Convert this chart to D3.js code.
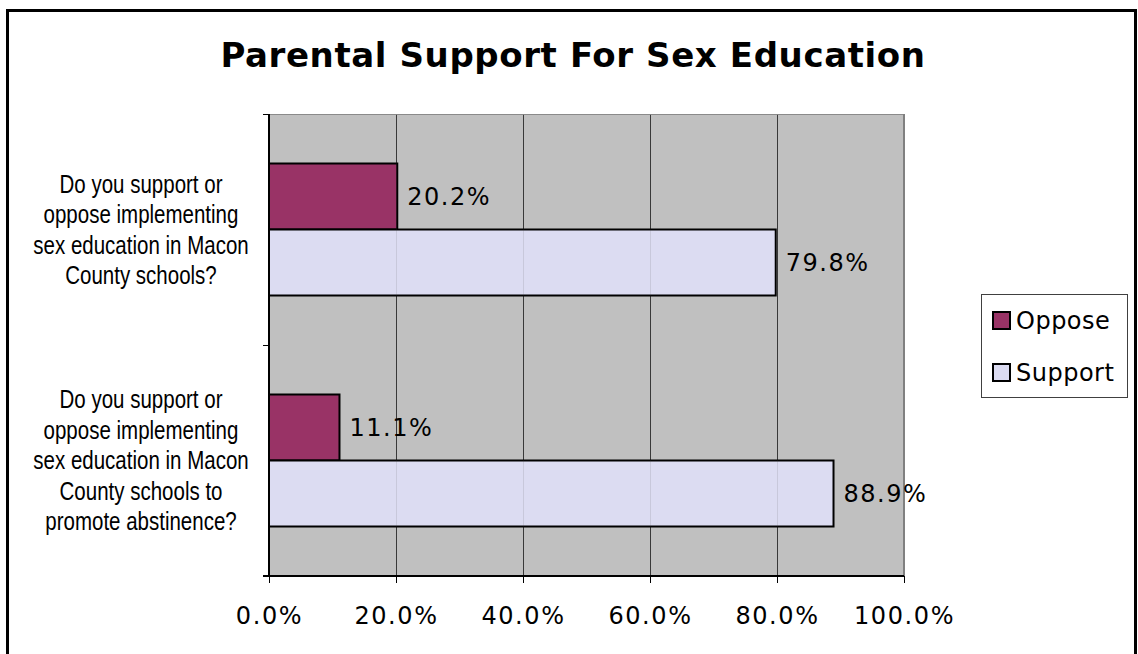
<!DOCTYPE html>
<html>
<head>
<meta charset="utf-8">
<script src="https://cdn.jsdelivr.net/npm/d3@7"></script>
<style>
  html, body { margin: 0; padding: 0; background: #fff; }
  svg { display: block; }
</style>
</head>
<body>
<svg id="chart" width="1138" height="654"></svg>
<script>
// ---- data ----
const title = "Parental Support For Sex Education";
const categories = [
  "Do you support or|oppose implementing|sex education in Macon|County schools?",
  "Do you support or|oppose implementing|sex education in Macon|County schools to|promote abstinence?"
];
const seriesNames = ["Oppose", "Support"];
const opposeValues = [20.2, 11.1];
const supportValues = [79.8, 88.9];
const xTickValues = [0, 20, 40, 60, 80, 100];

// ---- styles ----
const colors = { Oppose: "#993366", Support: "#DCDCF2" };
const plotBg = "#C0C0C0";
const labelFont = "'DejaVu Sans', Verdana, sans-serif";
const catFont = "'Liberation Sans', Arial, sans-serif";

const svg = d3.select("#chart");

// outer frame
svg.append("rect")
  .attr("x", 7.5).attr("y", 10.5)
  .attr("width", 1128).attr("height", 660)
  .attr("fill", "#fff").attr("stroke", "#000").attr("stroke-width", 3);

// title
svg.append("text")
  .attr("x", 573).attr("y", 67)
  .attr("text-anchor", "middle")
  .attr("font-family", labelFont)
  .attr("font-weight", "bold")
  .attr("font-size", 34)
  .attr("letter-spacing", 0.6)
  .attr("fill", "#000")
  .text(title);

const plot = { left: 269, right: 904, top: 114, bottom: 576 };

const x = d3.scaleLinear().domain([0, 100]).range([plot.left, plot.right]);
const y = d3.scaleBand().domain(categories).range([plot.top, plot.bottom]).padding(0);
const ySub = d3.scaleBand().domain(seriesNames).range([0, y.bandwidth()]).paddingInner(0).paddingOuter(0.75);

// plot background
svg.append("rect")
  .attr("x", plot.left).attr("y", plot.top)
  .attr("width", plot.right - plot.left).attr("height", plot.bottom - plot.top)
  .attr("fill", plotBg);

// gridlines
const gridVals = xTickValues.filter(v => v > 0 && v < 100);
svg.append("g").selectAll("line").data(gridVals).join("line")
  .attr("x1", d => x(d) + 0.5).attr("x2", d => x(d) + 0.5)
  .attr("y1", plot.top).attr("y2", plot.bottom)
  .attr("stroke", "#3a3a3a").attr("stroke-width", 1);

// top and right plot borders
svg.append("line").attr("x1", plot.left).attr("x2", plot.right)
  .attr("y1", plot.top + 0.5).attr("y2", plot.top + 0.5)
  .attr("stroke", "#8a8a8a").attr("stroke-width", 1);
svg.append("line").attr("x1", plot.right).attr("x2", plot.right)
  .attr("y1", plot.top).attr("y2", plot.bottom)
  .attr("stroke", "#808080").attr("stroke-width", 2);

// bars
const rows = categories.map((c, i) => ({ cat: c, Oppose: opposeValues[i], Support: supportValues[i] }));
const barData = [];
rows.forEach(r => seriesNames.forEach(s => barData.push({ cat: r.cat, series: s, value: r[s] })));

const bars = svg.append("g");
bars.selectAll("rect").data(barData).join("rect")
  .attr("x", x(0))
  .attr("y", d => y(d.cat) + ySub(d.series))
  .attr("width", d => x(d.value) - x(0))
  .attr("height", ySub.bandwidth())
  .attr("fill", d => colors[d.series])
  .attr("stroke", "#000").attr("stroke-width", 2);

// faint gridlines through bars
svg.append("g").selectAll("line").data(gridVals).join("line")
  .attr("x1", d => x(d) + 0.5).attr("x2", d => x(d) + 0.5)
  .attr("y1", plot.top).attr("y2", plot.bottom)
  .attr("stroke", "#3a3a3a").attr("stroke-opacity", 0.12).attr("stroke-width", 1);

// data labels
svg.append("g").selectAll("text").data(barData).join("text")
  .attr("x", d => x(d.value) + 10)
  .attr("y", d => y(d.cat) + ySub(d.series) + ySub.bandwidth() / 2)
  .attr("dy", "0.36em")
  .attr("font-family", labelFont)
  .attr("font-size", 24)
  .attr("letter-spacing", 1.5)
  .attr("fill", "#000")
  .text(d => d.value.toFixed(1) + "%");

// x axis
const xAxis = d3.axisBottom(x).tickValues(xTickValues)
  .tickFormat(d => d.toFixed(1) + "%").tickSize(7).tickPadding(24);
const gx = svg.append("g").attr("transform", `translate(0,${plot.bottom})`).call(xAxis);
gx.select(".domain").attr("stroke", "#000").attr("stroke-width", 2).attr("d", `M${plot.left - 6},0H${plot.right}`);
gx.selectAll(".tick line").attr("stroke", "#000");
gx.selectAll(".tick text").attr("font-family", labelFont).attr("font-size", 24)
  .attr("letter-spacing", 1.6).attr("fill", "#000");

// y axis (ticks at category boundaries)
const yBounds = [plot.top, ...categories.map(c => y(c) + y.bandwidth())];
svg.append("line").attr("x1", plot.left).attr("x2", plot.left)
  .attr("y1", plot.top).attr("y2", plot.bottom)
  .attr("stroke", "#000").attr("stroke-width", 2);
svg.append("g").selectAll("line").data(yBounds).join("line")
  .attr("x1", plot.left - 6).attr("x2", plot.left)
  .attr("y1", d => d + 0.5).attr("y2", d => d + 0.5)
  .attr("stroke", "#000").attr("stroke-width", 1);

// category labels (narrow face emulated with horizontal scale)
const lineH = 30.5;
const catG = svg.append("g");
categories.forEach(c => {
  const lines = c.split("|");
  const cy = y(c) + y.bandwidth() / 2;
  const t = catG.append("text")
    .attr("transform", "translate(141,0) scale(0.82,1)")
    .attr("text-anchor", "middle")
    .attr("font-family", catFont)
    .attr("font-size", 25)
    .attr("fill", "#000");
  lines.forEach((ln, i) => {
    t.append("tspan")
      .attr("x", 0)
      .attr("y", cy + (i - (lines.length - 1) / 2) * lineH)
      .attr("dy", "0.36em")
      .text(ln);
  });
});

// legend
const lg = svg.append("g");
lg.append("rect").attr("x", 981.5).attr("y", 294.5).attr("width", 146).attr("height", 103)
  .attr("fill", "#fff").attr("stroke", "#404040").attr("stroke-width", 1);
seriesNames.forEach((s, i) => {
  const top = 312 + i * 52;
  lg.append("rect").attr("x", 993).attr("y", top).attr("width", 17).attr("height", 17)
    .attr("fill", colors[s]).attr("stroke", "#000").attr("stroke-width", 2);
  lg.append("text").attr("x", 1016).attr("y", top + 8.5).attr("dy", "0.36em")
    .attr("font-family", labelFont).attr("font-size", 24).attr("letter-spacing", 0.5)
    .attr("fill", "#000").text(s);
});
</script>
</body>
</html>
